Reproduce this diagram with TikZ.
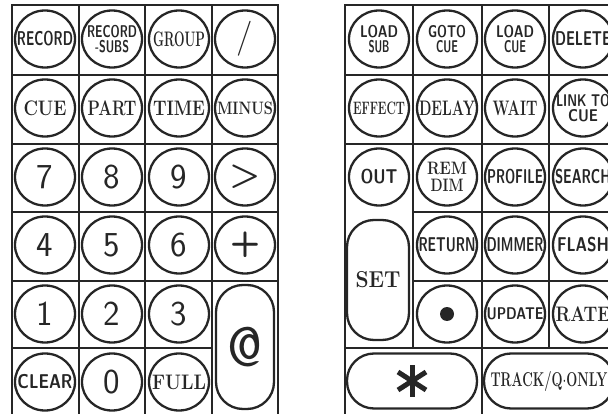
\documentclass[tikz,border=0pt]{standalone}
\usepackage{graphicx}
\usetikzlibrary{shapes.geometric}
\definecolor{ink}{HTML}{262626}
\newcommand{\kw}[2]{\resizebox{#1pt}{\height}{#2}}

\begin{document}
\begin{tikzpicture}[x=1pt, y=-1pt,
		grid/.style={draw=ink, line width=1.4pt},
		oval/.style={ellipse, draw=ink, line width=2.3pt, minimum width=60pt, minimum height=57pt, inner sep=0pt},
		pill/.style={rectangle, draw=ink, line width=2.3pt, inner sep=0pt, rounded corners=27pt, text=ink},
		sftxt/.style={inner sep=0pt, align=center, text=ink, font=\sffamily\bfseries\fontsize{20}{17}\selectfont},
		rmtxt/.style={inner sep=0pt, align=center, text=ink, font=\rmfamily\bfseries\fontsize{21}{17}\selectfont},
		numtxt/.style={inner sep=0pt, align=center, text=ink, font=\sffamily\fontsize{35}{35}\selectfont},
		smsftxt/.style={inner sep=0pt, align=center, text=ink, font=\sffamily\bfseries\fontsize{17}{15}\selectfont},
		smrmtxt/.style={inner sep=0pt, align=center, text=ink, font=\rmfamily\bfseries\fontsize{18}{17}\selectfont},
		sfkey/.style={oval, label={[sftxt]center:#1}},
		rmkey/.style={oval, label={[rmtxt]center:#1}},
		numkey/.style={oval, label={[numtxt]center:#1}},
		smsfkey/.style={oval, label={[smsftxt]center:#1}},
		smrmkey/.style={oval, label={[smrmtxt]center:#1}}]
		\useasboundingbox (0,0) rectangle (608,414);
		\clip (0,0) rectangle (608,414);
		\draw[grid] (12,5) rectangle (278,420);
		\draw[grid] (79,5) -- (79,420);
		\draw[grid] (145,5) -- (145,420);
		\draw[grid] (212,5) -- (212,420);
		\draw[grid] (12,75) -- (278,75);
		\draw[grid] (12,144) -- (278,144);
		\draw[grid] (12,212) -- (278,212);
		\draw[grid] (12,281) -- (278,281);
		\draw[grid] (12,348) -- (212,348);
		\draw[grid] (345,5) rectangle (617,420);
		\draw[grid] (413,5) -- (413,348);
		\draw[grid] (482,5) -- (482,420);
		\draw[grid] (549,5) -- (549,348);
		\draw[grid] (345,75) -- (617,75);
		\draw[grid] (345,144) -- (617,144);
		\draw[grid] (413,212) -- (617,212);
		\draw[grid] (413,281) -- (617,281);
		\draw[grid] (345,348) -- (617,348);
		\node[sfkey={\kw{56}{RECORD}}] (record) at (45,39) {};
		\node[smsfkey={\kw{50}{RECORD}\\\kw{34}{-SUBS}}] (recsubs) at (112,39) {};
		\node[rmkey={\kw{52}{GROUP}}] (group) at (179,39) {};
		\node[numkey=/] (slash) at (245,39) {};
		\node[rmkey={\kw{43}{CUE}}] (cue) at (45,108) {};
		\node[rmkey={\kw{49}{PART}}] (part) at (112,108) {};
		\node[rmkey={\kw{52}{TIME}}] (time) at (179,108) {};
		\node[smrmkey={\kw{56}{MINUS}}] (minus) at (245,108) {};
		\node[numkey=7] (seven) at (45,177) {};
		\node[numkey=8] (eight) at (112,177) {};
		\node[numkey=9] (nine) at (179,177) {};
		\node[numkey={\bfseries >}] (next) at (245,177) {};
		\node[numkey=4] (four) at (45,245) {};
		\node[numkey=5] (five) at (112,245) {};
		\node[numkey=6] (six) at (179,245) {};
		\node[numkey={\bfseries +}] (plus) at (245,245) {};
		\node[numkey=1] (one) at (45,314) {};
		\node[numkey=2] (two) at (112,314) {};
		\node[numkey=3] (three) at (179,314) {};
		\node[pill, minimum width=58pt, minimum height=124pt, font=\sffamily\fontsize{56}{56}\selectfont] (atkey) at (245,347) {@};
		\node[sfkey={\kw{55}{CLEAR}}] (clear) at (45,382) {};
		\node[numkey=0] (zero) at (112,382) {};
		\node[rmkey={\kw{54}{FULL}}] (full) at (179,382) {};
		\node[smsfkey={\kw{38}{LOAD}\\\kw{21}{SUB}}] (loadsub) at (379,39) {};
		\node[smsfkey={\kw{38}{GOTO}\\\kw{22}{CUE}}] (gotocue) at (447,39) {};
		\node[smsfkey={\kw{38}{LOAD}\\\kw{22}{CUE}}] (loadcue) at (515,39) {};
		\node[sfkey={\kw{56}{DELETE}}] (delete) at (583,39) {};
		\node[smrmkey={\kw{52}{EFFECT}}] (effect) at (379,108) {};
		\node[rmkey={\kw{56}{DELAY}}] (delay) at (447,108) {};
		\node[rmkey={\kw{45}{WAIT}}] (wait) at (515,108) {};
		\node[smsfkey={\kw{54}{LINK TO}\\\kw{30}{CUE}}] (linkcue) at (583,108) {};
		\node[sfkey={\kw{37}{OUT}}] (out) at (379,177) {};
		\node[smrmkey={\kw{40}{REM}\\\kw{33}{DIM}}] (remdim) at (447,177) {};
		\node[sfkey={\kw{56}{PROFILE}}] (profile) at (515,177) {};
		\node[sfkey={\kw{56}{SEARCH}}] (search) at (583,177) {};
		\node[pill, minimum width=62pt, minimum height=120pt, font=\rmfamily\bfseries\fontsize{23}{23}\selectfont] (set) at (378,280) {\kw{45}{SET}};
		\node[sfkey={\kw{57}{RETURN}}] (return) at (447,245) {};
		\node[sfkey={\kw{57}{DIMMER}}] (dimmer) at (515,245) {};
		\node[sfkey={\kw{52}{FLASH}}] (flash) at (583,245) {};
		\node[oval] (point) at (447,314) {};
		\fill[ink] (point) circle (7pt);
		\node[smsfkey={\kw{57}{UPDATE}}] (update) at (515,314) {};
		\node[rmkey={\kw{55}{RATE}}] (rate) at (583,314) {};
		\node[pill, minimum width=130pt, minimum height=55pt] (star) at (412,381) {};
		\draw[ink, line width=5pt] ([yshift=16pt]star.center) -- ([yshift=-16pt]star.center);
		\draw[ink, line width=5pt] ([shift={(-14,-9)}]star.center) -- ([shift={(14,9)}]star.center);
		\draw[ink, line width=5pt] ([shift={(-14,9)}]star.center) -- ([shift={(14,-9)}]star.center);
		\node[pill, minimum width=130pt, minimum height=55pt, font=\rmfamily\bfseries\fontsize{20}{20}\selectfont] (track) at (549,381) {\kw{117}{TRACK/Q$\cdot$ONLY}};
\end{tikzpicture}
\end{document}
